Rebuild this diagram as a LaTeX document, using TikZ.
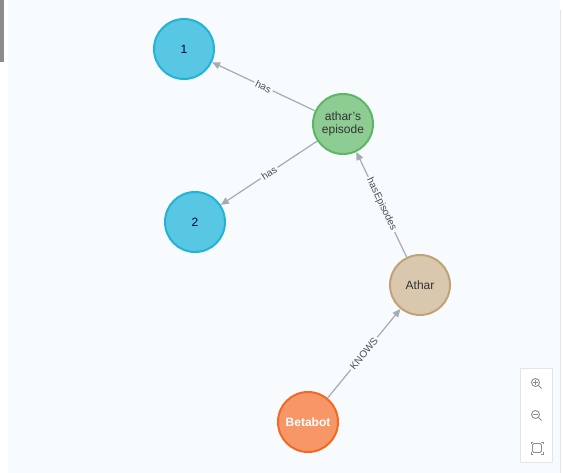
\documentclass[tikz,border=0pt]{standalone}
\usepackage{fontspec}
\setmainfont{Liberation Sans}
\usetikzlibrary{arrows.meta}
\definecolor{bg}{HTML}{F7FBFE}
\definecolor{edgec}{HTML}{A5ABB6}
\definecolor{labc}{HTML}{4A4D55}
\definecolor{bluef}{HTML}{57C7E3}
\definecolor{blued}{HTML}{23B3D7}
\definecolor{greenf}{HTML}{8DCC93}
\definecolor{greend}{HTML}{5DB665}
\definecolor{tanf}{HTML}{D9C8AE}
\definecolor{tand}{HTML}{C0A378}
\definecolor{orangef}{HTML}{F79767}
\definecolor{oranged}{HTML}{F36924}
\definecolor{icon}{HTML}{8A8D93}
\tikzset{
  gnode/.style={circle, minimum size=60pt, inner sep=0pt, line width=2pt, font=\fontsize{12}{13.5}\selectfont, align=center, text=black!80},
  bluenode/.style={gnode, fill=bluef, draw=blued, text=black!80!blue},
  greennode/.style={gnode, fill=greenf, draw=greend},
  tannode/.style={gnode, fill=tanf, draw=tand},
  orangenode/.style={gnode, fill=orangef, draw=oranged, text=white, font=\fontsize{12}{13}\selectfont\bfseries},
  rel/.style={draw=edgec, line width=1.2pt, -{Triangle[length=8pt,width=7pt]}},
  rlab/.style={sloped, fill=bg, inner sep=2pt, text=labc, font=\fontsize{10}{10}\selectfont},
}
\begin{document}
\begin{tikzpicture}[x=1pt,y=-1pt]
\useasboundingbox (0,0) rectangle (563,473);
\fill[white] (0,0) rectangle (563,473);
\fill[bg] (8,0) rectangle (560,473);
\fill[black!45] (0,0) rectangle (4,62);
\draw[black!10, line width=0.8pt] (560.5,10) -- (560.5,473);
% nodes
\node[bluenode] (n1) at (184,49) {1};
\node[bluenode] (n2) at (195,222) {2};
\node[greennode] (ep) at (343,124) {athar's\\episode};
\node[tannode] (ath) at (420,285) {Athar};
\node[orangenode] (bb) at (308,422) {Betabot};
% edges
\draw[rel] (ep) -- node[rlab] {has} (n1);
\draw[rel] (ep) -- node[rlab] {has} (n2);
\draw[rel] (ath) -- node[rlab] {hasEpisodes} (ep);
\draw[rel] (bb) -- node[rlab] {KNOWS} (ath);
% zoom controls
\node[draw=black!10, fill=white, line width=0.8pt, minimum width=32pt, minimum height=94pt, inner sep=0pt] (ctrl) at (536,415) {};
\begin{scope}[icon, line width=0.9pt]
  \draw (535.5,382.5) circle (4);
  \draw (538.4,385.4) -- (541.5,388.5);
  \draw (533.3,382.5) -- (537.7,382.5);
  \draw (535.5,380.3) -- (535.5,384.7);
  \draw (535.5,414.5) circle (4);
  \draw (538.4,417.4) -- (541.5,420.5);
  \draw (533.3,414.5) -- (537.7,414.5);
  \draw[rounded corners=1.5pt] (532.5,443.5) rectangle (541.5,452.5);
  \draw[line width=0.7pt] (531,444) -- (531,442) -- (533,442);
  \draw[line width=0.7pt] (541,442) -- (543,442) -- (543,444);
  \draw[line width=0.7pt] (531,452) -- (531,454) -- (533,454);
  \draw[line width=0.7pt] (541,454) -- (543,454) -- (543,452);
\end{scope}
\end{tikzpicture}
\end{document}
